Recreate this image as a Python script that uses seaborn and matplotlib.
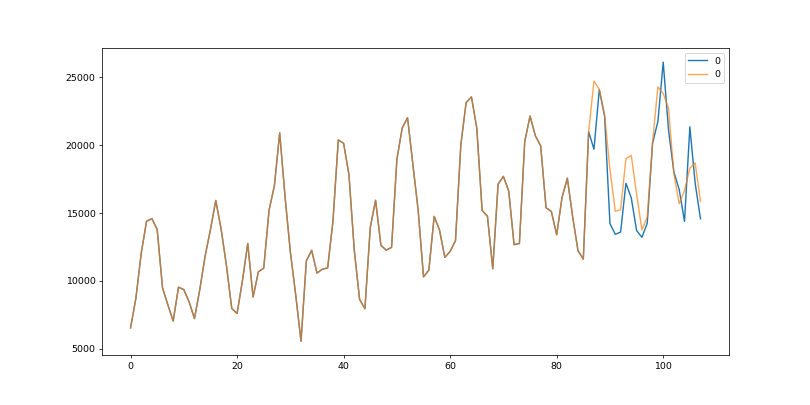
import matplotlib
matplotlib.use("Agg")
import matplotlib.pyplot as plt
import numpy as np
import pandas as pd
import seaborn as sns

# monthly sales, 108 months
actual = [6550, 8728, 12026, 14395, 14587, 13791, 9498, 8251, 7049, 9545, 9364, 8456,
          7237, 9374, 11837, 13784, 15926, 13821, 11143, 7975, 7610, 10015, 12759, 8816,
          10677, 10947, 15200, 17010, 20900, 16205, 12143, 8997, 5568, 11474, 12256, 10583,
          10862, 10965, 14405, 20379, 20128, 17816, 12268, 8642, 7962, 13932, 15936, 12628,
          12267, 12470, 18944, 21259, 22015, 18581, 15175, 10306, 10792, 14752, 13754, 11738,
          12181, 12965, 19990, 23125, 23541, 21247, 15189, 14767, 10895, 17130, 17697, 16611,
          12674, 12760, 20249, 22135, 20677, 19933, 15388, 15113, 13401, 16135, 17562, 14720,
          12225, 11608, 20985, 19692, 24081, 22114, 14220, 13434, 13598, 17187, 16119, 13713,
          13210, 14251, 20139, 21725, 26099, 21084, 18024, 16722, 14385, 21342, 17180, 14577]

# forecast for months 87..107 (history kept before that)
forecast = [24700, 24100, 22200, 18200, 15130, 15240, 19000, 19240, 16400, 13760, 14690,
            20200, 24280, 23800, 22690, 17900, 15680, 16660, 18300, 18680, 15850]

predicted = actual[:87] + forecast
months = np.arange(len(actual))

df = pd.DataFrame({"month": months, "actual": actual, "predicted": predicted})

fig, ax = plt.subplots(figsize=(12, 6), dpi=67.5)
fig.subplots_adjust(left=0.126, right=0.9, top=0.881, bottom=0.123)
sns.lineplot(data=df, x="month", y="actual", color="tab:blue", label="0", ax=ax)
sns.lineplot(data=df, x="month", y="predicted", color="tab:orange", alpha=0.7, label="0", ax=ax)
ax.set_xlabel("")
ax.set_ylabel("")
ax.legend(loc="upper right")
fig.savefig("out.png", dpi=67.5)
